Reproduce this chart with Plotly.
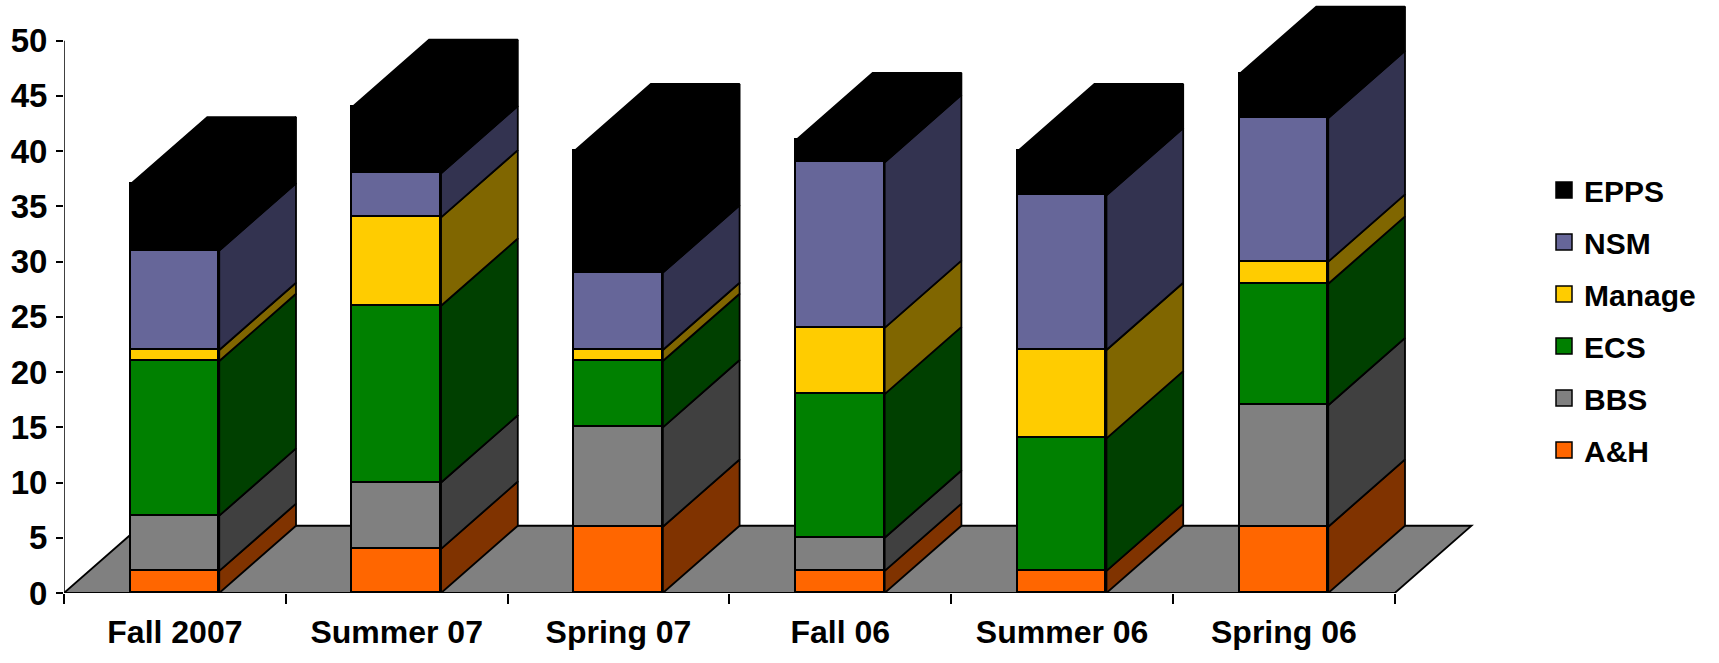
import plotly.graph_objects as go
import numpy as np

# ---------------- data ----------------
categories = ["Fall 2007", "Summer 07", "Spring 07", "Fall 06", "Summer 06", "Spring 06"]
series_names = ["A&H", "BBS", "ECS", "Manage", "NSM", "EPPS"]
a_h    = [2, 4, 6, 2, 2, 6]
bbs    = [5, 6, 9, 3, 0, 11]
ecs    = [14, 16, 6, 13, 12, 11]
manage = [1, 8, 1, 6, 8, 2]
nsm    = [9, 4, 7, 15, 14, 13]
epps   = [6, 6, 11, 2, 4, 4]
y_ticks = list(range(0, 51, 5))

series_values = [a_h, bbs, ecs, manage, nsm, epps]

# ---------------- style ----------------
front_colors = ["#FF6600", "#808080", "#008000", "#FFCC00", "#666699", "#000000"]
side_colors  = ["#803300", "#404040", "#004000", "#806600", "#333350", "#000000"]
FLOOR = "#808080"
FONT = "Liberation Sans, Arial, sans-serif"

BAR_W = 0.40      # front face width (category units)
DEPTH_X = 0.346   # oblique depth, x (category units)
DEPTH_Y = 6.09    # oblique depth, y (value units)
LW = 1.8

W, H = 1719, 663
ML, MR, MT, MB = 64, 235, 2, 70
PX_X = 221.8
PX_Y = 11.046
x_max = (W - ML - MR) / PX_X
y_max = (H - MT - MB) / PX_Y

n = len(categories)
xc = np.arange(n) + 0.5

fig = go.Figure()

# front faces: stacked bars
for name, vals, col in zip(series_names, series_values, front_colors):
    fig.add_trace(go.Bar(
        x=xc, y=vals, width=BAR_W, name=name, showlegend=False,
        marker=dict(color=col, line=dict(color="black", width=LW)),
        hoverinfo="skip"))

# side and top faces
cum = np.zeros(n)
tops = np.zeros(n)
for vals in series_values:
    tops += np.array(vals, dtype=float)

for name, vals, scol in zip(series_names, series_values, side_colors):
    v = np.array(vals, dtype=float)
    for i in range(n):
        if v[i] <= 0:
            continue
        y0, y1 = cum[i], cum[i] + v[i]
        xr = xc[i] + BAR_W / 2
        px = [xr, xr + DEPTH_X, xr + DEPTH_X, xr, xr]
        py = [y0, y0 + DEPTH_Y, y1 + DEPTH_Y, y1, y0]
        fig.add_trace(go.Scatter(x=px, y=py, mode="lines", fill="toself",
                                 fillcolor=scol, line=dict(color="black", width=LW),
                                 showlegend=False, hoverinfo="skip"))
    cum += v

# top faces (colour of the topmost series in each stack)
for i in range(n):
    top_idx = max(k for k in range(len(series_values)) if series_values[k][i] > 0)
    xl = xc[i] - BAR_W / 2
    xr = xc[i] + BAR_W / 2
    t = tops[i]
    px = [xl, xl + DEPTH_X, xr + DEPTH_X, xr, xl]
    py = [t, t + DEPTH_Y, t + DEPTH_Y, t, t]
    fig.add_trace(go.Scatter(x=px, y=py, mode="lines", fill="toself",
                             fillcolor=side_colors[top_idx],
                             line=dict(color="black", width=LW),
                             showlegend=False, hoverinfo="skip"))

# legend entries (top-down order)
for name, col in reversed(list(zip(series_names, front_colors))):
    fig.add_trace(go.Scatter(
        x=[None], y=[None], mode="markers", name=name, legendgroup=name,
        marker=dict(symbol="square", size=16, color=col,
                    line=dict(color="black", width=1.5))))

# floor (below the bars) and y-axis line
floor_path = (f"M 0 0 L {DEPTH_X} {DEPTH_Y} L {n + DEPTH_X} {DEPTH_Y} "
              f"L {n} 0 Z")
fig.add_shape(type="path", path=floor_path, xref="x", yref="y",
              fillcolor=FLOOR, line=dict(color="black", width=LW), layer="below")
fig.add_shape(type="line", x0=0, x1=0, y0=0, y1=y_ticks[-1], xref="x", yref="y",
              line=dict(color="black", width=1.5), layer="above")

fig.update_layout(
    width=W, height=H,
    margin=dict(l=ML, r=MR, t=MT, b=MB, autoexpand=False),
    barmode="stack", bargap=0,
    plot_bgcolor="white", paper_bgcolor="white",
    font=dict(family=FONT, color="black"),
    legend=dict(
        xref="container", yref="container",
        x=1544 / W, y=1 - 164 / H, xanchor="left", yanchor="top",
        traceorder="grouped", tracegroupgap=10,
        font=dict(family=FONT, size=30, color="black", weight="bold"),
        bgcolor="rgba(0,0,0,0)"),
    xaxis=dict(
        range=[0, x_max], showgrid=False, zeroline=False, showline=False,
        tickmode="array", tickvals=list(xc), ticktext=categories, ticks="",
        ticklabelstandoff=17,
        tickfont=dict(family=FONT, size=32, color="black", weight="bold"),
        minor=dict(tickmode="array", tickvals=list(range(n + 1)), ticks="outside",
                   ticklen=10, tickwidth=1.5, tickcolor="black"),
    ),
    yaxis=dict(
        range=[0, y_max], showgrid=False, zeroline=False, showline=False,
        tickmode="array", tickvals=y_ticks, ticks="outside", ticklen=7,
        tickwidth=1.5, tickcolor="black", ticklabelstandoff=2,
        tickfont=dict(family=FONT, size=33, color="black", weight="bold"),
    ),
)

fig.write_html("out.html")
